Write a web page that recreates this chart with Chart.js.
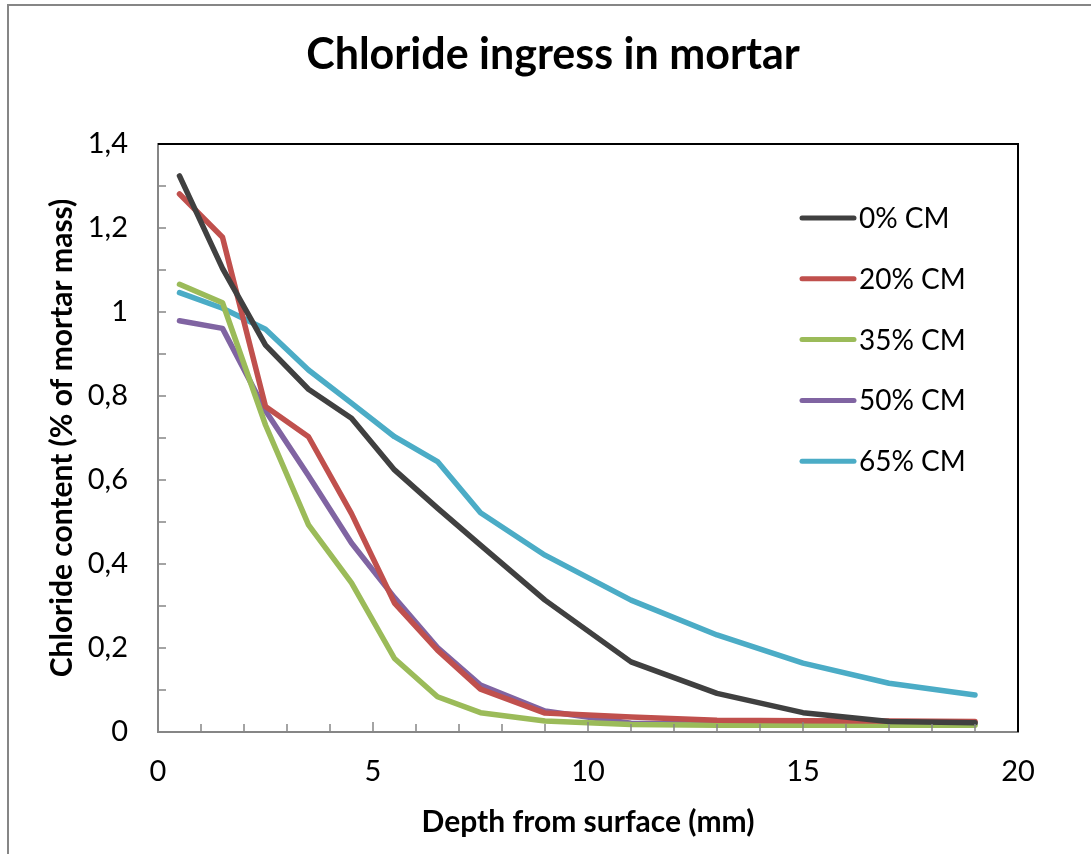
<!DOCTYPE html>
<html>
<head>
<meta charset="utf-8">
<script src="https://cdn.jsdelivr.net/npm/chart.js@4.4.0/dist/chart.umd.min.js"></script>
<style>
  body { margin: 0; background: #fff; overflow: hidden; }
  #wrap { position: relative; width: 1091px; height: 854px; }
  #frame { position: absolute; left: 7px; top: 4px; width: 1200px; height: 1000px;
           border-left: 2px solid #868686; border-top: 2px solid #868686; pointer-events: none; }
</style>
</head>
<body>
<div id="wrap">
  <canvas id="chart1" width="1091" height="854"></canvas>
  <div id="frame"></div>
</div>
<script>
// depth (mm)
const depths = [0.5, 1.5, 2.5, 3.5, 4.5, 5.5, 6.5, 7.5, 9, 11, 13, 15, 17, 19];

// chloride content (% of mortar mass)
const cm0  = [1.324, 1.104, 0.921, 0.816, 0.747, 0.624, 0.533, 0.445, 0.314, 0.167, 0.092, 0.046, 0.025, 0.022];
const cm20 = [1.281, 1.178, 0.775, 0.703, 0.52, 0.307, 0.195, 0.102, 0.045, 0.036, 0.028, 0.027, 0.026, 0.025];
const cm35 = [1.066, 1.022, 0.731, 0.493, 0.355, 0.175, 0.084, 0.046, 0.026, 0.018, 0.016, 0.016, 0.016, 0.016];
const cm50 = [0.979, 0.961, 0.765, 0.61, 0.45, 0.32, 0.201, 0.112, 0.05, 0.021, 0.02, 0.02, 0.02, 0.02];
const cm65 = [1.046, 1.009, 0.959, 0.862, 0.783, 0.703, 0.644, 0.522, 0.421, 0.314, 0.231, 0.164, 0.116, 0.088];

const seriesNames = ['0% CM', '20% CM', '35% CM', '50% CM', '65% CM'];
const seriesColors = ['#404040', '#C0504D', '#9BBB59', '#8064A2', '#4BACC6'];
const seriesValues = [cm0, cm20, cm35, cm50, cm65];

const FONT = 'Lato, "Open Sans", sans-serif';

// inner tick marks + black top/right frame
const innerTicks = {
  id: 'innerTicks',
  afterDraw(chart) {
    const {ctx, chartArea: a, scales: {x, y}} = chart;
    ctx.save();
    ctx.strokeStyle = '#868686';
    ctx.lineWidth = 1.5;
    for (let i = 1; i < 14; i++) {
      const py = y.getPixelForValue(i / 10);
      ctx.beginPath(); ctx.moveTo(a.left, py); ctx.lineTo(a.left + 8, py); ctx.stroke();
    }
    for (let i = 1; i <= 19; i++) {
      const px = x.getPixelForValue(i);
      const len = i % 5 === 0 ? 10 : 8;
      ctx.beginPath(); ctx.moveTo(px, a.bottom); ctx.lineTo(px, a.bottom - len); ctx.stroke();
    }
    ctx.strokeStyle = '#000';
    ctx.lineWidth = 2;
    ctx.beginPath();
    ctx.moveTo(a.left, a.top); ctx.lineTo(a.right, a.top); ctx.lineTo(a.right, a.bottom);
    ctx.stroke();
    ctx.restore();
  }
};

// legend drawn inside the plot
const insideLegend = {
  id: 'insideLegend',
  afterDraw(chart) {
    const ctx = chart.ctx;
    ctx.save();
    ctx.font = '28px ' + FONT;
    ctx.textBaseline = 'middle';
    ctx.lineCap = 'round';
    chart.data.datasets.forEach((ds, i) => {
      const yy = 218 + i * 60.8;
      ctx.strokeStyle = ds.borderColor;
      ctx.lineWidth = 5;
      ctx.beginPath(); ctx.moveTo(802, yy); ctx.lineTo(854, yy); ctx.stroke();
      ctx.fillStyle = '#000';
      ctx.fillText(ds.label, 859, yy + 1);
    });
    ctx.restore();
  }
};

const ctx = document.getElementById('chart1');
new Chart(ctx, {
  type: 'line',
  data: {
    datasets: seriesNames.map((name, i) => ({
      label: name,
      data: depths.map((d, j) => ({x: d, y: seriesValues[i][j]})),
      borderColor: seriesColors[i],
      backgroundColor: seriesColors[i],
      borderWidth: 5.5,
      borderCapStyle: 'round',
      borderJoinStyle: 'round',
      pointRadius: 0,
      tension: 0
    }))
  },
  options: {
    responsive: false,
    animation: false,
    layout: { padding: { left: 15, right: 0, top: 0, bottom: 0 } },
    plugins: {
      legend: { display: false },
      tooltip: { enabled: false },
      title: {
        display: true,
        text: 'Chloride ingress in mortar',
        color: '#000',
        font: { family: FONT, size: 43, weight: 'bold', lineHeight: 1.2 },
        padding: { top: 29, bottom: 63.4 }
      }
    },
    scales: {
      x: {
        type: 'linear',
        min: 0, max: 20,
        afterFit(s) { s.height = 122; },
        grid: { display: false, drawTicks: false },
        border: { display: true, color: '#868686', width: 2 },
        ticks: { stepSize: 5, padding: 22, color: '#000', font: { family: FONT, size: 29 } },
        title: {
          display: true, text: 'Depth from surface (mm)', color: '#000',
          font: { family: FONT, size: 30, weight: 'bold', lineHeight: 1.2 },
          padding: { top: 0, bottom: 14 }
        }
      },
      y: {
        min: 0, max: 1.4,
        afterFit(s) { s.width = 143; },
        grid: { display: false, drawTicks: false },
        border: { display: true, color: '#868686', width: 2 },
        ticks: {
          stepSize: 0.2, padding: 30, color: '#000', font: { family: FONT, size: 29 },
          callback: v => String(Math.round(v * 10) / 10).replace('.', ',')
        },
        title: {
          display: true, text: 'Chloride content (% of mortar mass)', color: '#000',
          font: { family: FONT, size: 30, weight: 'bold', lineHeight: 1.2 },
          padding: { top: 29, bottom: 0 }
        }
      },
      // empty right-hand box so the plot ends where the reference's does
      yRight: {
        position: 'right',
        afterFit(s) { s.width = 73; },
        grid: { display: false, drawTicks: false },
        border: { display: false },
        ticks: { display: false }
      }
    }
  },
  plugins: [innerTicks, insideLegend]
});
</script>
</body>
</html>
